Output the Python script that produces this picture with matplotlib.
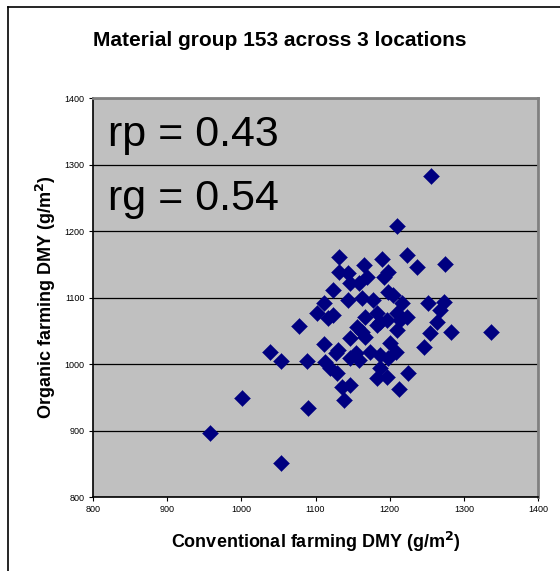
import matplotlib
matplotlib.use("Agg")
import matplotlib.pyplot as plt
from matplotlib.lines import Line2D

plt.rcParams['font.family'] = ['Liberation Sans', 'DejaVu Sans']

title = "Material group 153 across 3 locations"
xlabel = "Conventional farming DMY (g/m$^\\mathbf{2}$)"
ylabel = "Organic farming DMY (g/m$^\\mathbf{2}$)"
rp_text = "rp = 0.43"
rg_text = "rg = 0.54"

conventional = [958, 1001, 1054, 1039, 1054, 1078, 1088, 1090, 1256, 1210,
                1132, 1189, 1223, 1237, 1274, 1132, 1144, 1165, 1170, 1198,
                1192, 1123, 1147, 1158, 1144, 1163, 1177, 1198, 1205, 1217,
                1252, 1273, 1268, 1111, 1102, 1123, 1117, 1167, 1183, 1187,
                1183, 1197, 1210, 1224, 1214, 1210, 1264, 1254, 1283, 1336,
                1156, 1163, 1167, 1147, 1111, 1131, 1127, 1154, 1158, 1147,
                1174, 1187, 1201, 1208, 1198, 1246, 1113, 1120, 1129, 1187,
                1183, 1197, 1225, 1136, 1147, 1138, 1213]
organic = [896, 949, 851, 1018, 1005, 1057, 1005, 934, 1283, 1208,
           1161, 1158, 1164, 1146, 1150, 1138, 1137, 1149, 1131, 1138,
           1131, 1111, 1122, 1122, 1096, 1099, 1096, 1108, 1104, 1092,
           1092, 1093, 1081, 1092, 1077, 1074, 1069, 1071, 1077, 1063,
           1059, 1066, 1077, 1071, 1066, 1051, 1063, 1047, 1048, 1048,
           1056, 1048, 1041, 1039, 1030, 1021, 1017, 1017, 1006, 1009,
           1018, 1014, 1032, 1018, 1009, 1026, 1003, 994, 986, 994,
           979, 980, 986, 965, 968, 946, 962]

xticks = [800, 900, 1000, 1100, 1200, 1300, 1400]
yticks = [800, 900, 1000, 1100, 1200, 1300, 1400]

fig = plt.figure(figsize=(5.6, 5.71), dpi=100)
fig.patch.set_facecolor('white')
ax = fig.add_axes([93/560, 1-497/571, (538-93)/560, (497-98)/571])
ax.set_facecolor('#C0C0C0')

ax.scatter(conventional, organic, marker='D', s=66, color='#000080',
           edgecolors='#000080', linewidths=0.3, zorder=3)

ax.set_xlim(800, 1400)
ax.set_ylim(800, 1400)
ax.set_xticks(xticks)
ax.set_yticks(yticks)
ax.set_xticklabels([str(v) for v in xticks], fontsize=6.5)
ax.set_yticklabels([str(v) for v in yticks], fontsize=6.5)
ax.tick_params(axis='both', direction='out', length=3, width=0.8, pad=3, colors='black')
ax.yaxis.grid(True, color='black', linewidth=0.9, zorder=1)
ax.xaxis.grid(False)
ax.set_axisbelow(True)

for side in ['left', 'bottom']:
    ax.spines[side].set_color('black')
    ax.spines[side].set_linewidth(1.2)
for side in ['top', 'right']:
    ax.spines[side].set_color('#808080')
    ax.spines[side].set_linewidth(2.0)

ax.set_xlabel(xlabel, fontsize=13, fontweight='bold', labelpad=11)
ax.set_ylabel(ylabel, fontsize=13, fontweight='bold', labelpad=5)

fig.text(0.5, 1-40/571, title, ha='center', va='center', fontsize=15, fontweight='bold')

ax.text(0.034, 0.88, rp_text, transform=ax.transAxes, fontsize=31, va='baseline', ha='left')
ax.text(0.034, 0.719, rg_text, transform=ax.transAxes, fontsize=31, va='baseline', ha='left')

# outer chart frame (top and left edges)
fig.add_artist(Line2D([8/560, 1], [1-7/571, 1-7/571], color='black', linewidth=1.2, transform=fig.transFigure))
fig.add_artist(Line2D([8/560, 8/560], [0, 1-7/571], color='black', linewidth=1.2, transform=fig.transFigure))

fig.savefig('out.png', dpi=100)
